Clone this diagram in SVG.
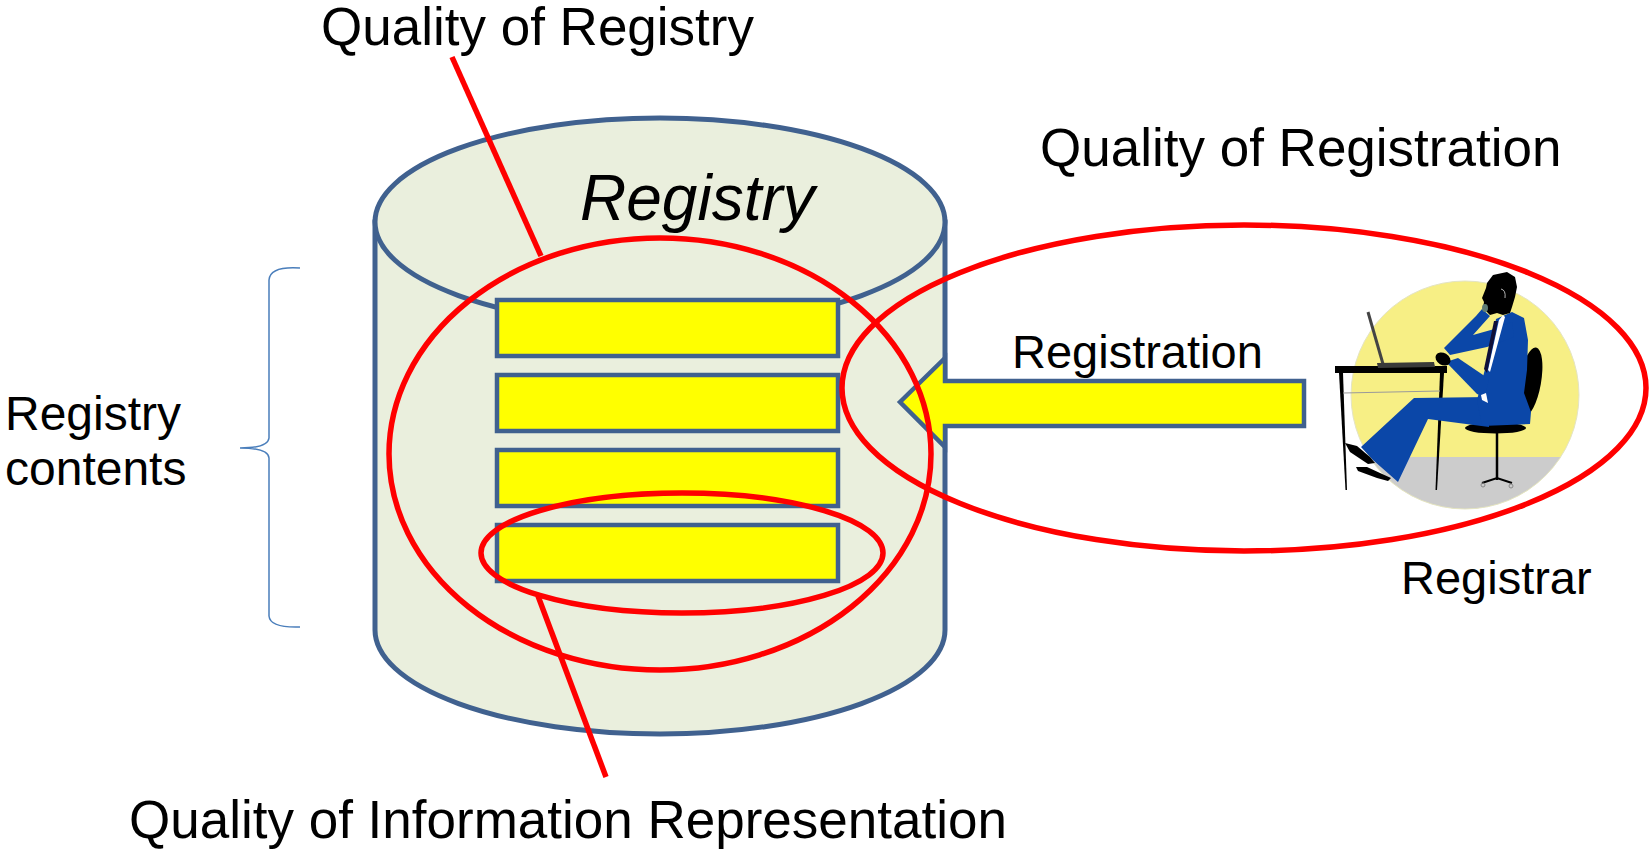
<svg xmlns="http://www.w3.org/2000/svg" width="1652" height="849" viewBox="0 0 1652 849">
  <style>
    .lbl { font-family: "Liberation Sans", Arial, sans-serif; fill: #000; }
    .big { font-size: 53px; }
    .mid { font-size: 47px; }
    .db { fill: #EAEFDD; stroke: #40618F; stroke-width: 5; }
    .bar { fill: #FFFF00; stroke: #40618F; stroke-width: 4.5; }
    .ring { fill: none; stroke: #FF0000; stroke-width: 5.5; }
    .lead { stroke: #FF0000; stroke-width: 5.5; fill: none; }
    .suit { fill: #0B47A8; }
    .ink { fill: #000; }
  </style>
  <defs>
    <clipPath id="discClip">
      <circle cx="1465" cy="395" r="114"/>
    </clipPath>
  </defs>

  <rect width="1652" height="849" fill="#FFFFFF"/>

  <!-- Registry database cylinder -->
  <g id="registry">
    <path class="db" d="M375,222 L375,630 A285,104 0 0 0 945,630 L945,222 Z"/>
    <ellipse class="db" cx="660" cy="222" rx="285" ry="104"/>
    <text class="lbl" x="580" y="220" font-size="64" font-style="italic">Registry</text>
  </g>

  <!-- Registry content records -->
  <g id="records">
    <rect class="bar" x="497" y="300" width="341" height="56"/>
    <rect class="bar" x="497" y="375" width="341" height="56"/>
    <rect class="bar" x="497" y="450" width="341" height="56"/>
    <rect class="bar" x="497" y="525" width="341" height="56"/>
  </g>

  <!-- Registration arrow into the registry -->
  <g id="registration">
    <polygon class="bar" points="900,402 945,358 945,381 1304,381 1304,426 945,426 945,447" stroke-linejoin="miter"/>
    <text class="lbl mid" x="1012" y="368">Registration</text>
  </g>

  <!-- Registrar at a desk -->
  <g id="registrar">
    <g clip-path="url(#discClip)">
      <rect x="1350" y="280" width="230" height="232" fill="#F7EF85"/>
      <rect x="1350" y="457" width="230" height="60" fill="#CCCCCC"/>
    </g>
    <circle cx="1465" cy="395" r="114" fill="none" stroke="#E4E4C4" stroke-width="1"/>
    <!-- chair -->
    <ellipse class="ink" cx="1530" cy="382" rx="11" ry="35" transform="rotate(10 1530 382)"/>
    <ellipse class="ink" cx="1495.5" cy="428" rx="30.5" ry="5.5"/>
    <line x1="1497" y1="432" x2="1497" y2="480" stroke="#000" stroke-width="2.5"/>
    <polyline points="1482,483 1497,478 1512,483" fill="none" stroke="#000" stroke-width="2"/>
    <circle cx="1483" cy="485" r="2" fill="none" stroke="#888" stroke-width="1"/>
    <circle cx="1511" cy="486" r="2" fill="none" stroke="#888" stroke-width="1"/>
    <!-- desk -->
    <rect class="ink" x="1335" y="366" width="112" height="7"/>
    <polygon class="ink" points="1339,373 1343,373 1347,490 1345.5,490"/>
    <polygon class="ink" points="1440,373 1444,373 1437,490 1435.5,490"/>
    <line x1="1343" y1="393" x2="1440" y2="391" stroke="#9A9A9A" stroke-width="1"/>
    <!-- laptop -->
    <line x1="1368" y1="312" x2="1383" y2="364" stroke="#444" stroke-width="3"/>
    <polygon points="1377,363 1434,362 1435,367 1378,368" fill="#3A3A3A"/>
    <!-- legs and shoes -->
    <polygon class="suit" points="1489,397 1414,398 1361,447 1373,460 1398,482 1428,419 1489,427"/>
    <polygon class="ink" points="1345,443 1357,446 1370,457 1375,463 1368,464 1350,452"/>
    <polygon class="ink" points="1356,467 1367,467 1380,473 1391,478 1388,481 1377,478 1358,471"/>
    <!-- torso -->
    <polygon class="suit" points="1496,319 1512,312 1524,318 1528,340 1527,370 1524,393 1531,412 1530,424 1482,426 1477,400 1484,373 1491,347"/>
    <!-- arm to keyboard -->
    <polygon class="suit" points="1446,362 1458,358 1489,379 1485,397 1477,394"/>
    <ellipse class="ink" cx="1443" cy="359" rx="8" ry="6" transform="rotate(30 1443 359)"/>
    <polygon points="1481,395 1486,393 1488,403 1482,400" fill="#FFFFFF"/>
    <!-- raised arm holding the phone -->
    <polygon class="suit" points="1482,309 1490,316 1473,335 1498,328 1512,322 1514,337 1487,347 1450,355 1444,348 1476,316"/>
    <!-- shirt and tie -->
    <polygon points="1499,320 1503,315 1505,317 1490,372 1488,370" fill="#FFFFFF"/>
    <polygon points="1494,321 1498,321 1487,373 1484,369" fill="#101038"/>
    <!-- head -->
    <polygon class="ink" points="1487,283 1493,275 1507,272 1515,277 1517,287 1515,297 1512,307 1510,313 1503,315 1497,313 1490,315 1487,312 1483,308 1484,302 1482,298 1484,293 1486,288"/>
    <path d="M1501,289 Q1506,290 1505,298" fill="none" stroke="#DDDDDD" stroke-width="0.8"/>
    <ellipse cx="1485" cy="308" rx="3" ry="4" fill="#5E7C74"/>
  </g>

  <!-- Side label with brace -->
  <g id="contents">
    <path d="M300,268 Q270,266 269,280 L269,438 Q268,448 240,448 Q268,448 269,458 L269,616 Q270,628 300,627" fill="none" stroke="#4A7EBB" stroke-width="1.5"/>
    <text class="lbl" x="5" y="430" font-size="48">Registry</text>
    <text class="lbl" x="5" y="485" font-size="48">contents</text>
  </g>

  <!-- Quality scopes -->
  <g id="scopes">
    <ellipse class="ring" cx="660" cy="454" rx="271" ry="216"/>
    <ellipse class="ring" cx="682" cy="553" rx="201" ry="60"/>
    <ellipse class="ring" cx="1244" cy="388" rx="402" ry="163"/>
  </g>

  <!-- Leader lines to the quality labels -->
  <g id="connectors">
    <line class="lead" x1="452" y1="57" x2="541" y2="256"/>
    <line class="lead" x1="538" y1="596" x2="606" y2="777"/>
  </g>

  <g id="labels">
    <text class="lbl big" x="321" y="45">Quality of Registry</text>
    <text class="lbl big" x="1040" y="166">Quality of Registration</text>
    <text class="lbl big" x="129" y="838" font-size="52.6">Quality of Information Representation</text>
    <text class="lbl mid" x="1401" y="594">Registrar</text>
  </g>
</svg>
